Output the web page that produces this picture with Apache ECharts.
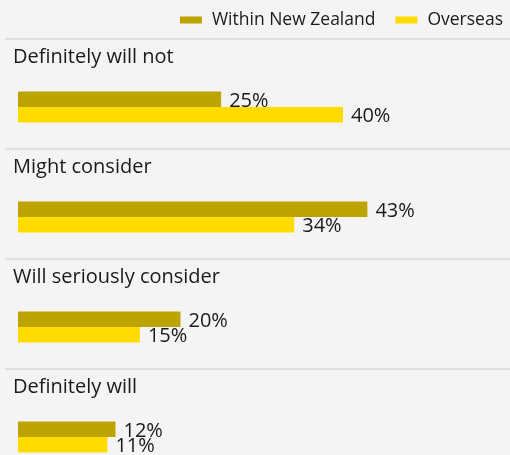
<!DOCTYPE html>
<html>
<head>
<meta charset="utf-8">
<script src="https://cdn.jsdelivr.net/npm/echarts@6/dist/echarts.min.js"></script>
<style>
html,body{margin:0;padding:0;background:#f4f4f4;}
#main{width:510px;height:455px;}
</style>
</head>
<body>
<div id="main"></div>
<script>
var categories = ['Definitely will not', 'Might consider', 'Will seriously consider', 'Definitely will'];
var seriesNames = ['Within New Zealand', 'Overseas'];
var withinNZ = [25, 43, 20, 12];
var overseas = [40, 34, 15, 11];

var FONT = 'Open Sans';
var chart = echarts.init(document.getElementById('main'));

function labelCfg(offsetY) {
  return {
    show: true, position: 'right', distance: 8, offset: [0, offsetY],
    formatter: '{c}%', color: '#1a1a1a', fontSize: 20, fontFamily: FONT
  };
}

var option = {
  backgroundColor: '#f4f4f4',
  animation: false,
  legend: {
    top: 6, right: 2, icon: 'rect', itemWidth: 22, itemHeight: 7, itemGap: 20,
    textStyle: { color: '#1a1a1a', fontSize: 17.5, fontFamily: FONT, padding: [0, 0, 0, 5] },
    data: seriesNames
  },
  grid: [
    { left: 18, top: 52, width: 487.5, height: 440, outerBoundsMode: 'none', containLabel: false },
    { left: 5, width: 505, top: 39, height: 440, outerBoundsMode: 'none', containLabel: false }
  ],
  xAxis: [
    { type: 'value', gridIndex: 0, min: 0, max: 60, show: false },
    { type: 'value', gridIndex: 1, min: 0, max: 1, show: false }
  ],
  yAxis: [
    { type: 'category', gridIndex: 0, inverse: true, data: categories,
      axisLine: { show: false }, axisTick: { show: false }, axisLabel: { show: false }, splitLine: { show: false } },
    { type: 'category', gridIndex: 1, inverse: true, data: categories,
      axisLine: { show: false }, axisTick: { show: false }, axisLabel: { show: false },
      splitLine: { show: true, lineStyle: { color: '#dadada', width: 1.5 } } }
  ],
  series: [
    { name: seriesNames[0], type: 'bar', xAxisIndex: 0, yAxisIndex: 0, data: withinNZ,
      barWidth: 15.5, barGap: '0%', itemStyle: { color: '#BEA400' }, label: labelCfg(2) },
    { name: seriesNames[1], type: 'bar', xAxisIndex: 0, yAxisIndex: 0, data: overseas,
      barWidth: 15.5, barGap: '0%', itemStyle: { color: '#FFDB00' }, label: labelCfg(2) }
  ]
};
chart.setOption(option);

var graphics = categories.map(function (c, i) {
  var y = chart.convertToPixel({ yAxisIndex: 0 }, c);
  return {
    type: 'text', left: 13, top: y - 50 - 10,
    style: { text: c, fill: '#1a1a1a', fontSize: 20, fontFamily: FONT }
  };
});
chart.setOption({ graphic: graphics });
</script>
</body>
</html>
